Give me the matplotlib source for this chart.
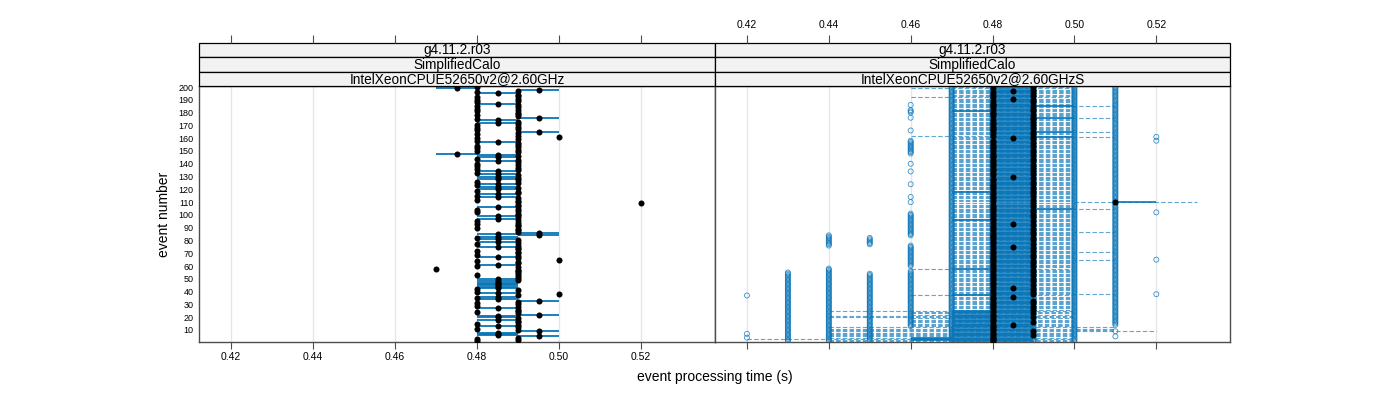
import matplotlib
matplotlib.use('Agg')
import matplotlib.pyplot as plt
from matplotlib.patches import Rectangle

plt.rcParams['font.family'] = ['Liberation Sans', 'DejaVu Sans']

# ---------------- data (times in ms) ----------------
events = list(range(1, 201))

# left panel (reference build): min / max per event; dot = mean
left_lo = [480,490,480,490,490,480,480,480,490,490,
           480,490,480,490,480,490,490,480,490,480,
           480,490,490,480,490,490,480,490,480,490,
           480,490,490,480,480,480,490,500,480,480,
           490,480,480,480,480,480,480,480,490,480,
           490,490,480,490,490,490,490,470,490,480,
           480,490,490,480,500,490,480,490,480,490,
           490,480,490,490,480,490,480,490,480,490,
           480,480,480,490,480,490,490,490,490,480,
           490,490,480,490,480,490,480,490,480,490,
           490,480,490,480,490,480,490,490,520,490,
           490,480,490,480,480,480,490,490,480,480,
           490,480,480,480,490,480,490,480,490,480,
           490,480,480,480,490,480,490,480,490,480,
           490,480,490,480,480,490,480,470,490,480,
           490,480,490,480,490,490,480,480,490,480,
           500,490,480,490,490,480,490,480,490,480,
           490,480,490,480,480,490,490,480,490,490,
           480,490,480,490,480,490,480,480,490,480,
           490,480,490,490,480,480,490,490,470,480]
left_hi = [480,490,480,490,500,490,490,490,500,490,
           480,490,490,490,480,490,490,490,490,490,
           490,500,490,480,490,490,490,490,480,490,
           480,490,500,490,480,490,490,500,490,480,
           490,480,490,490,490,490,490,490,490,490,
           490,490,480,490,490,490,490,470,490,480,
           490,490,490,480,500,490,490,490,480,490,
           490,480,490,490,490,490,480,490,490,490,
           490,480,490,500,490,500,490,490,490,480,
           490,490,480,490,480,490,490,490,490,490,
           490,480,490,480,490,490,490,490,520,490,
           490,480,490,490,480,490,490,490,480,490,
           490,490,480,490,490,480,490,490,490,490,
           490,490,480,490,490,480,490,480,490,480,
           490,490,490,480,490,490,490,480,490,480,
           490,480,490,480,490,490,490,480,490,480,
           500,490,480,490,500,480,490,480,490,480,
           490,490,490,490,480,500,490,480,490,490,
           480,490,480,490,480,490,490,480,490,480,
           490,480,490,490,490,480,490,500,480,480]

# right panel (S build): median, quartiles, whiskers per event
right_med = [480,480,480,480,480,490,480,480,490,480, 480,480,480,485,480,490,480,480,480,490,
             480,480,490,480,480,490,480,490,480,480, 490,480,490,480,480,485,480,490,480,490,
             480,490,485,480,490,480,480,490,480,490, 480,480,490,480,490,480,490,480,480,490,
             480,490,480,490,480,480,490,480,490,480, 480,490,480,490,485,480,490,480,480,490,
             480,490,480,480,490,480,490,480,490,480, 480,490,485,480,490,480,480,490,480,490,
             480,490,480,490,480,480,490,480,490,510, 480,490,480,480,490,480,490,480,490,480,
             490,480,480,490,480,490,480,480,490,485, 480,490,480,490,480,480,490,480,490,480,
             480,490,480,490,480,480,490,480,490,480, 490,480,480,490,480,490,480,480,490,485,
             490,480,490,480,490,480,480,490,480,490, 480,480,490,480,490,490,480,490,480,480,
             490,480,490,480,490,480,480,490,480,490, 485,480,490,480,490,480,485,490,480,490]
right_q1 = [470,460,460,460,470,470,470,470,470,470, 470,470,470,470,470,470,470,470,470,470,
            470,470,470,470,470,480,480,480,480,480, 480,480,480,480,480,480,470,480,480,480,
            480,480,480,480,480,480,480,480,480,480, 480,480,480,480,480,480,480,470,480,480,
            480,480,480,480,480,480,480,480,480,480, 480,480,480,480,480,480,480,480,480,480,
            480,480,480,480,480,480,480,480,480,480, 480,480,480,480,480,470,480,480,480,480,
            480,480,480,480,480,480,480,480,480,510, 480,480,480,480,480,480,480,470,480,480,
            480,480,480,480,480,480,480,480,480,480, 480,480,480,480,480,480,480,480,480,480,
            480,480,480,480,480,480,480,480,480,480, 480,480,480,480,480,480,480,480,480,480,
            480,480,480,480,480,480,480,480,480,480, 480,480,480,480,480,480,480,480,480,480,
            470,480,480,480,480,480,480,480,480,480, 480,480,480,480,480,480,480,480,480,480]
right_q3 = [490,490,490,490,490,490,490,490,490,490, 490,490,490,490,490,490,490,490,490,490,
            490,490,490,490,490,490,490,490,490,490, 490,490,490,490,490,490,490,490,490,490,
            490,490,490,490,490,490,490,490,490,490, 490,490,490,490,490,490,490,490,490,490,
            490,490,490,490,490,490,490,490,490,490, 490,490,490,490,490,490,490,490,490,490,
            490,490,490,490,490,490,490,490,490,490, 490,490,490,490,490,490,490,490,490,490,
            490,490,490,490,500,490,490,490,490,520, 490,490,490,490,490,490,490,490,490,490,
            490,490,490,490,490,490,490,490,490,490, 490,490,490,490,490,490,490,490,490,490,
            490,490,490,490,490,490,490,490,490,490, 490,490,490,490,490,490,490,490,490,490,
            500,490,490,490,500,490,490,490,490,490, 490,490,490,490,490,500,490,490,490,490,
            490,490,490,490,500,490,490,490,490,490, 490,490,490,490,490,490,490,490,490,490]
right_wlo = [440,440,420,440,440,440,440,440,440,440, 440,440,460,460,460,460,460,460,460,440,
             440,460,460,460,440,470,470,470,470,470, 470,470,470,470,470,470,460,470,470,470,
             470,470,470,470,470,470,470,470,470,470, 470,470,470,470,470,470,470,460,470,470,
             470,470,470,470,470,470,470,470,470,470, 470,470,470,470,470,470,470,470,470,470,
             470,470,470,470,470,470,470,470,470,470, 470,470,470,470,470,470,470,470,470,470,
             470,470,470,470,470,470,470,470,470,500, 470,470,470,470,470,470,470,470,470,470,
             470,470,470,470,470,470,470,470,470,470, 470,470,470,470,470,470,470,470,470,470,
             470,470,470,470,470,470,470,470,470,470, 470,470,470,470,470,470,470,470,470,470,
             470,460,470,470,470,470,470,470,470,470, 470,470,470,470,470,470,470,470,470,470,
             470,470,470,470,470,470,470,470,470,470, 470,460,470,470,470,470,470,470,460,470]
right_whi = [500,500,500,500,500,500,500,500,520,510, 510,510,500,500,500,500,500,500,500,500,
             500,500,500,500,500,500,500,500,500,500, 500,500,500,500,500,500,500,510,500,500,
             500,500,500,500,500,500,500,500,500,500, 500,500,500,500,500,500,500,500,500,500,
             500,500,500,500,510,500,500,500,500,500, 510,500,500,500,500,500,500,500,500,500,
             500,500,500,500,500,500,510,500,500,500, 500,500,500,500,500,500,500,500,500,500,
             500,500,500,500,510,500,500,500,500,530, 500,500,500,500,500,500,500,500,500,500,
             500,500,500,500,500,500,500,500,500,500, 500,500,500,500,500,500,500,500,500,500,
             500,500,500,500,500,500,500,500,500,500, 500,500,500,500,500,500,500,500,500,500,
             510,500,500,500,510,500,500,500,500,500, 500,500,500,500,500,510,500,500,500,500,
             500,500,500,500,510,500,500,500,500,500, 500,500,500,500,500,500,500,500,500,500]

# individual runs of the S build: value (ms) -> event ranges where circles appear
run_values = [420, 430, 440, 450, 460, 470, 480, 490, 500, 510, 520]
run_event_ranges = [
    [(4, 4), (7, 7), (37, 37)],
    [(1, 55)],
    [(1, 58), (76, 84)],
    [(2, 54), (77, 82)],
    [(13, 56), (60, 76), (84, 101), (110, 110), (114, 114), (124, 124), (134, 134),
     (140, 140), (148, 158), (166, 166), (176, 176), (180, 182), (186, 186)],
    [(1, 200)],
    [(1, 200)],
    [(1, 200)],
    [(1, 200)],
    [(5, 5), (9, 9), (14, 200)],
    [(38, 38), (65, 65), (102, 102), (158, 158), (161, 161)],
]

x_ticks = [0.42, 0.44, 0.46, 0.48, 0.50, 0.52]
y_ticks = list(range(10, 201, 10))
strip_texts = [["g4.11.2.r03", "SimplifiedCalo", "IntelXeonCPUE52650v2@2.60GHz"],
               ["g4.11.2.r03", "SimplifiedCalo", "IntelXeonCPUE52650v2@2.60GHzS"]]

# ---------------- drawing ----------------
W, H = 1400, 400
fig = plt.figure(figsize=(14, 4), dpi=100)
BLUE = '#0a76b8'

def box(x0, x1, ytop, ybot):
    return [x0 / W, 1 - ybot / H, (x1 - x0) / W, (ybot - ytop) / H]

panels = [(199, 715), (715, 1230)]
ptop, pbot = 86, 342
stop = 43
xlim = (0.4122, 0.5380)
ylim = (0.6, 200.8)

ms = lambda v: [a / 1000.0 for a in v]

for i, (x0, x1) in enumerate(panels):
    ax = fig.add_axes(box(x0, x1, ptop, pbot))
    ax.set_xlim(*xlim)
    ax.set_ylim(*ylim)
    for t in x_ticks:
        ax.axvline(t, color='#e6e6e6', lw=1, zorder=0)
    for s in ax.spines.values():
        s.set_color('#4d4d4d')
        s.set_linewidth(1.0)
    ax.set_xticks(x_ticks)
    ax.set_xticklabels([f"{t:.2f}" for t in x_ticks] if i == 0 else [])
    ax.tick_params(axis='x', direction='out', length=5, width=0.8, color='#4d4d4d',
                   labelsize=7.5, pad=2)
    if i == 0:
        ax.set_yticks(y_ticks)
        ax.set_yticklabels([str(t) for t in y_ticks])
        ax.tick_params(axis='y', length=0, labelsize=6.5, pad=4)
        ax.set_ylabel('event number', fontsize=10, labelpad=5)
        lo = ms(left_lo); hi = ms(left_hi)
        segs_y = [e for e, a, b in zip(events, lo, hi) if b > a]
        segs_a = [a for a, b in zip(lo, hi) if b > a]
        segs_b = [b for a, b in zip(lo, hi) if b > a]
        ax.hlines(segs_y, segs_a, segs_b, color=BLUE, lw=1.3, zorder=2)
        mean = [(a + b) / 2 for a, b in zip(lo, hi)]
        ax.scatter(mean, events, s=19, color='black', lw=0, zorder=3)
    else:
        ax.set_yticks([])
        cx, cy = [], []
        for v, rngs in zip(run_values, run_event_ranges):
            for a, b in rngs:
                for e in range(a, b + 1):
                    cx.append(v / 1000.0)
                    cy.append(e)
        ax.scatter(cx, cy, s=13, facecolors='none', edgecolors=BLUE, linewidths=0.6,
                   alpha=0.8, zorder=2)
        ax.hlines(events, ms(right_wlo), ms(right_whi), color=BLUE, lw=0.8,
                  linestyles=(0, (4, 2)), alpha=0.65, zorder=3)
        q1 = ms(right_q1); q3 = ms(right_q3)
        sy = [e for e, a, b in zip(events, q1, q3) if b > a]
        sa = [a for a, b in zip(q1, q3) if b > a]
        sb = [b for a, b in zip(q1, q3) if b > a]
        ax.hlines(sy, sa, sb, color=BLUE, lw=1.2, zorder=4)
        ax.scatter(ms(right_med), events, s=19, color='black', lw=0, zorder=5)

    # strips
    sax = fig.add_axes(box(x0, x1, stop, ptop))
    sax.set_xlim(*xlim)
    sax.set_ylim(0, 3)
    for s in sax.spines.values():
        s.set_visible(False)
    for k, txt in enumerate(strip_texts[i]):
        yb = 2 - k
        sax.add_patch(Rectangle((xlim[0], yb), xlim[1] - xlim[0], 1, facecolor='#f2f2f2',
                                edgecolor='black', lw=0.9, clip_on=False))
        sax.text((xlim[0] + xlim[1]) / 2, yb + 0.5, txt, ha='center', va='center', fontsize=9.8)
    sax.set_yticks([])
    sax.xaxis.tick_top()
    sax.set_xticks(x_ticks)
    sax.set_xticklabels([f"{t:.2f}" for t in x_ticks] if i == 1 else [])
    sax.tick_params(axis='x', direction='out', length=6, width=0.8, color='#4d4d4d',
                    labelsize=7.5, pad=3)

fig.text(715 / W, 1 - 377 / H, 'event processing time (s)', ha='center', va='center', fontsize=10)
fig.savefig('out.png', dpi=100)
